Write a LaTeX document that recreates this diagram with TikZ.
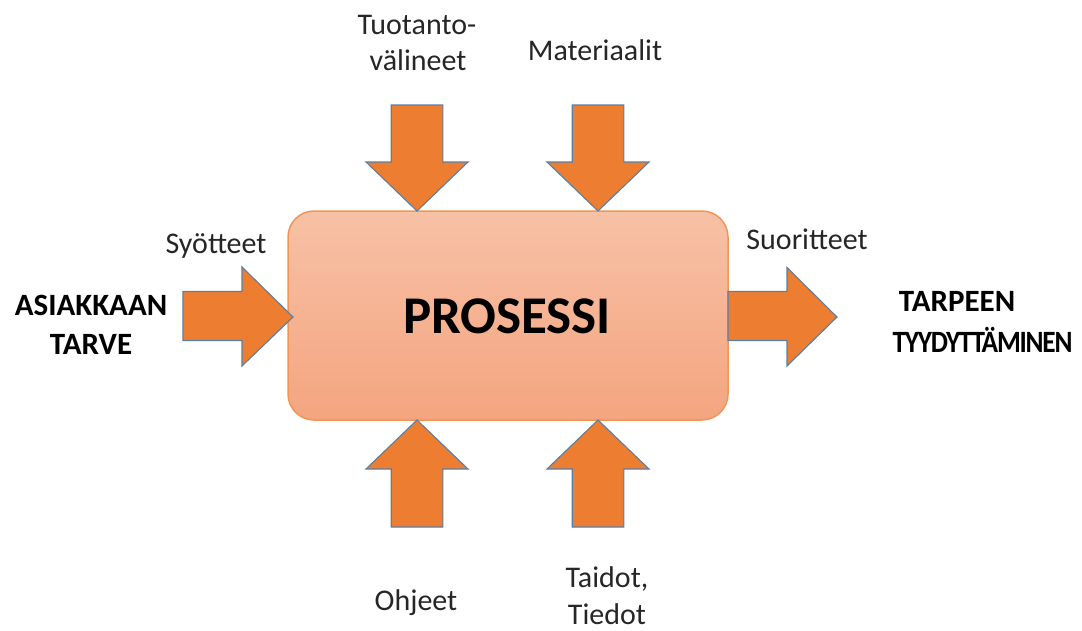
\documentclass[tikz,border=0pt]{standalone}
\usepackage{graphicx}
\usepackage{fontspec}
\setmainfont{Carlito}
\newfontfamily\tightfont[LetterSpace=-4.5]{Carlito}
\definecolor{arrowfill}{HTML}{ED7D31}
\definecolor{arrowline}{HTML}{5A7FA3}
\definecolor{boxtop}{HTML}{F7C1A6}
\definecolor{boxbot}{HTML}{F4A57F}
\definecolor{boxline}{HTML}{F29658}
\definecolor{labelgray}{HTML}{262626}
\tikzset{
  blockarrow/.style={fill=arrowfill, draw=arrowline, line width=1.1pt, line join=miter},
  lbl/.style={anchor=base, text=labelgray, font=\fontsize{30}{36}\selectfont, inner sep=0pt},
  boldlbl/.style={anchor=base, text=black, font=\fontsize{31}{39}\selectfont\bfseries, inner sep=0pt},
}
\begin{document}
\begin{tikzpicture}[x=1pt,y=-1pt]
\useasboundingbox (0,0) rectangle (1082,630);
% process box
\node[draw=boxline, line width=1.5pt, rounded corners=26pt, top color=boxtop, bottom color=boxbot,
      minimum width=440pt, minimum height=209pt, inner sep=0pt] (box) at (508,315.5) {};
\node[anchor=base, inner sep=0pt, font=\fontsize{53}{60}\selectfont\bfseries] (proc) at (507,333) {PROSESSI};
% top arrows
\foreach \cx/\nm in {417/tl,598/tr}{
  \draw[blockarrow] (\cx-25.8,105) -- (\cx+25.8,105) -- (\cx+25.8,162) -- (\cx+51,162)
    -- (\cx,211) coordinate (\nm) -- (\cx-51,162) -- (\cx-25.8,162) -- cycle;
}
% bottom arrows
\foreach \cx/\nm in {417/bl,598/br}{
  \draw[blockarrow] (\cx-25.8,527) -- (\cx+25.8,527) -- (\cx+25.8,469) -- (\cx+51,469)
    -- (\cx,420) coordinate (\nm) -- (\cx-51,469) -- (\cx-25.8,469) -- cycle;
}
% left arrow
\draw[blockarrow] (183,291.5) -- (242,291.5) -- (242,267) -- (293,317) coordinate (lt)
  -- (242,366) -- (242,340.5) -- (183,340.5) -- cycle;
% right arrow
\draw[blockarrow] (728,291.5) -- (787,291.5) -- (787,267.5) -- (837,317) coordinate (rt)
  -- (787,366) -- (787,340.5) -- (728,340.5) -- cycle;
% labels
\node[lbl] (tuo1) at (417,34) {Tuotanto-};
\node[lbl] (tuo2) at (418,70) {välineet};
\node[lbl] (mat) at (595,60) {Materiaalit};
\node[lbl] (syo) at (216,253) {Syötteet};
\node[lbl] (suo) at (807,249) {Suoritteet};
\node[lbl] (ohj) at (416,610) {Ohjeet};
\node[lbl] (tai1) at (607,587) {Taidot,};
\node[lbl] (tai2) at (607,624) {Tiedot};
\node[boldlbl] (asi1) at (91,315) {ASIAKKAAN};
\node[boldlbl] (asi2) at (91,354) {TARVE};
\node[boldlbl] (tar1) at (957,311) {TARPEEN};
\node[boldlbl, font=\fontsize{31}{39}\tightfont\bfseries] (tar2) at (982.5,352) {\scalebox{0.88}[1]{TYYDYTTÄMINEN}};
\end{tikzpicture}
\end{document}
